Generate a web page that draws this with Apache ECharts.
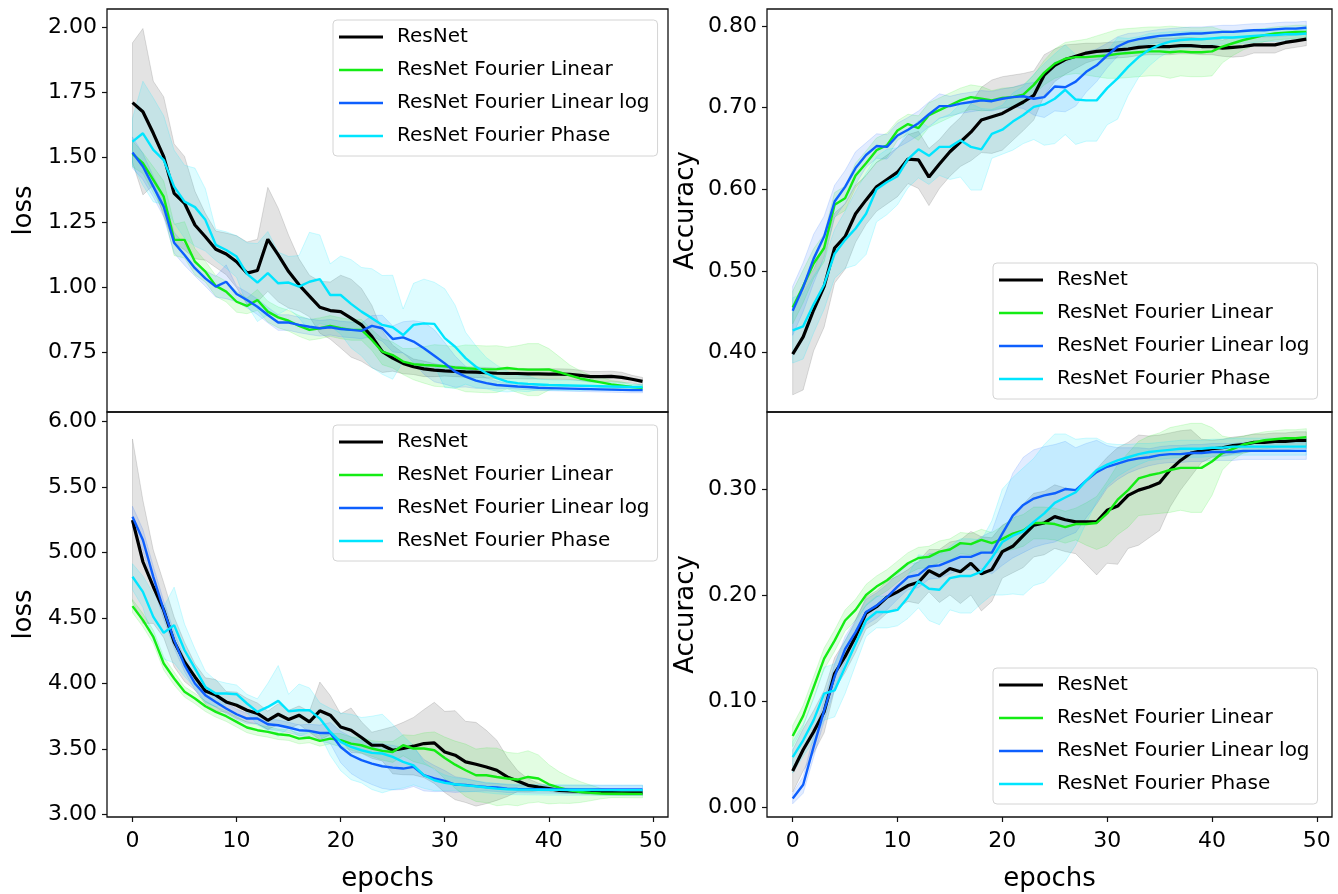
<!DOCTYPE html>
<html>
<head>
<meta charset="utf-8">
<script src="https://cdn.jsdelivr.net/npm/echarts@6/dist/echarts.min.js"></script>
<style>
  html, body { margin: 0; padding: 0; background: #fff; }
  #chart { width: 1338px; height: 894px; }
</style>
</head>
<body>
<div id="chart"></div>
<script>
'use strict';

var epochs = [0,1,2,3,4,5,6,7,8,9,10,11,12,13,14,15,16,17,18,19,20,21,22,23,24,25,26,27,28,29,30,31,32,33,34,35,36,37,38,39,40,41,42,43,44,45,46,47,48,49];
var seriesNames = ['ResNet', 'ResNet Fourier Linear', 'ResNet Fourier Linear log', 'ResNet Fourier Phase'];
var xTicks = [0, 10, 20, 30, 40, 50];

// top left: loss
var lossTopResNet = [1.709,1.674,1.591,1.501,1.360,1.322,1.238,1.193,1.145,1.127,1.097,1.053,1.063,1.183,1.123,1.059,1.008,0.965,0.922,0.909,0.905,0.880,0.854,0.809,0.751,0.726,0.706,0.693,0.685,0.680,0.677,0.675,0.673,0.672,0.670,0.668,0.667,0.667,0.666,0.666,0.665,0.665,0.664,0.660,0.655,0.655,0.656,0.652,0.645,0.637];
var lossTopLinear = [1.512,1.476,1.412,1.347,1.181,1.181,1.097,1.059,1.004,0.982,0.943,0.927,0.950,0.905,0.883,0.870,0.850,0.835,0.841,0.850,0.841,0.835,0.835,0.796,0.751,0.738,0.713,0.703,0.700,0.698,0.695,0.690,0.687,0.685,0.683,0.684,0.688,0.684,0.682,0.682,0.683,0.672,0.660,0.648,0.640,0.633,0.625,0.620,0.615,0.612];
var lossTopLinearLog = [1.517,1.463,1.386,1.309,1.170,1.123,1.072,1.033,1.001,1.020,0.973,0.950,0.924,0.892,0.863,0.863,0.854,0.847,0.841,0.845,0.838,0.835,0.831,0.850,0.841,0.800,0.806,0.790,0.764,0.735,0.706,0.674,0.655,0.640,0.630,0.623,0.620,0.617,0.615,0.612,0.611,0.610,0.609,0.608,0.607,0.606,0.605,0.604,0.603,0.603];
var lossTopPhase = [1.559,1.591,1.527,1.488,1.386,1.328,1.307,1.258,1.162,1.142,1.117,1.050,1.017,1.053,1.014,1.017,1.001,1.020,1.030,0.969,0.969,0.935,0.905,0.880,0.854,0.845,0.815,0.854,0.860,0.858,0.803,0.770,0.726,0.693,0.668,0.649,0.636,0.630,0.627,0.625,0.623,0.622,0.621,0.620,0.619,0.618,0.617,0.616,0.615,0.615];
var lossTopResNetStd = [0.23,0.32,0.20,0.23,0.19,0.18,0.13,0.09,0.07,0.08,0.10,0.12,0.12,0.20,0.18,0.14,0.10,0.08,0.10,0.11,0.14,0.15,0.14,0.12,0.08,0.05,0.04,0.03,0.03,0.025,0.02,0.02,0.02,0.02,0.02,0.02,0.02,0.02,0.02,0.02,0.02,0.02,0.02,0.02,0.02,0.02,0.02,0.02,0.015,0.015];
var lossTopLinearStd = [0.05,0.04,0.05,0.06,0.06,0.07,0.05,0.04,0.04,0.04,0.04,0.03,0.04,0.04,0.04,0.04,0.04,0.04,0.04,0.04,0.04,0.04,0.04,0.04,0.05,0.05,0.05,0.06,0.07,0.08,0.08,0.08,0.09,0.09,0.09,0.09,0.08,0.09,0.10,0.10,0.08,0.06,0.04,0.03,0.02,0.02,0.015,0.015,0.01,0.01];
var lossTopLinearLogStd = [0.06,0.05,0.04,0.04,0.04,0.04,0.03,0.03,0.04,0.065,0.03,0.03,0.03,0.03,0.03,0.03,0.03,0.03,0.03,0.03,0.03,0.03,0.03,0.04,0.05,0.05,0.06,0.08,0.10,0.10,0.08,0.06,0.04,0.03,0.02,0.015,0.01,0.01,0.01,0.01,0.01,0.01,0.01,0.01,0.01,0.01,0.01,0.01,0.01,0.01];
var lossTopPhaseStd = [0.09,0.20,0.20,0.17,0.14,0.14,0.15,0.12,0.06,0.07,0.08,0.12,0.15,0.16,0.12,0.10,0.12,0.19,0.17,0.12,0.15,0.17,0.17,0.19,0.19,0.20,0.10,0.16,0.17,0.16,0.19,0.16,0.10,0.08,0.06,0.05,0.04,0.03,0.03,0.02,0.02,0.02,0.02,0.02,0.015,0.015,0.015,0.015,0.01,0.01];

// top right: accuracy
var accTopResNet = [0.398,0.419,0.452,0.481,0.528,0.542,0.570,0.587,0.603,0.612,0.621,0.637,0.636,0.615,0.631,0.646,0.658,0.670,0.685,0.689,0.693,0.700,0.707,0.715,0.740,0.752,0.759,0.763,0.767,0.769,0.770,0.771,0.772,0.774,0.775,0.775,0.775,0.776,0.776,0.775,0.775,0.773,0.774,0.775,0.777,0.777,0.777,0.780,0.782,0.784];
var accTopLinear = [0.455,0.481,0.509,0.528,0.581,0.589,0.617,0.632,0.648,0.654,0.672,0.680,0.675,0.691,0.697,0.703,0.709,0.713,0.711,0.709,0.712,0.713,0.716,0.728,0.743,0.754,0.760,0.762,0.762,0.763,0.764,0.766,0.767,0.768,0.769,0.769,0.768,0.769,0.768,0.768,0.769,0.775,0.779,0.783,0.786,0.789,0.791,0.792,0.793,0.793];
var accTopLinearLog = [0.451,0.480,0.515,0.542,0.585,0.603,0.626,0.642,0.653,0.652,0.666,0.673,0.681,0.692,0.702,0.702,0.705,0.707,0.709,0.708,0.711,0.713,0.714,0.711,0.713,0.726,0.725,0.732,0.744,0.752,0.764,0.775,0.781,0.784,0.786,0.788,0.789,0.790,0.791,0.791,0.792,0.793,0.793,0.794,0.795,0.795,0.796,0.797,0.797,0.798];
var accTopPhase = [0.427,0.432,0.459,0.483,0.521,0.538,0.552,0.570,0.600,0.609,0.616,0.637,0.649,0.641,0.652,0.652,0.660,0.652,0.649,0.668,0.673,0.683,0.691,0.701,0.704,0.711,0.722,0.710,0.709,0.709,0.724,0.736,0.750,0.762,0.771,0.777,0.781,0.783,0.784,0.784,0.785,0.786,0.786,0.787,0.788,0.789,0.789,0.790,0.790,0.791];
var accTopResNetStd = [0.05,0.065,0.05,0.05,0.043,0.04,0.035,0.03,0.03,0.03,0.03,0.03,0.035,0.035,0.03,0.03,0.03,0.035,0.04,0.045,0.045,0.04,0.035,0.03,0.025,0.02,0.018,0.015,0.012,0.01,0.01,0.01,0.01,0.01,0.01,0.01,0.01,0.01,0.01,0.01,0.01,0.01,0.012,0.012,0.01,0.01,0.01,0.008,0.008,0.008];
var accTopLinearStd = [0.02,0.02,0.018,0.017,0.015,0.015,0.015,0.015,0.015,0.015,0.012,0.012,0.015,0.015,0.015,0.015,0.015,0.015,0.015,0.012,0.012,0.012,0.012,0.012,0.015,0.018,0.02,0.02,0.022,0.025,0.028,0.03,0.03,0.03,0.03,0.03,0.032,0.03,0.03,0.03,0.03,0.02,0.015,0.012,0.01,0.008,0.008,0.008,0.008,0.008];
var accTopLinearLogStd = [0.03,0.03,0.03,0.025,0.02,0.02,0.02,0.015,0.015,0.015,0.015,0.015,0.015,0.015,0.015,0.012,0.012,0.012,0.012,0.012,0.012,0.012,0.015,0.02,0.025,0.03,0.03,0.03,0.025,0.02,0.015,0.012,0.01,0.008,0.008,0.008,0.008,0.008,0.008,0.008,0.008,0.008,0.008,0.008,0.008,0.008,0.008,0.008,0.008,0.008];
var accTopPhaseStd = [0.04,0.04,0.035,0.03,0.03,0.035,0.045,0.05,0.04,0.04,0.035,0.035,0.035,0.035,0.035,0.04,0.045,0.053,0.05,0.03,0.03,0.035,0.035,0.04,0.05,0.055,0.055,0.055,0.05,0.05,0.045,0.05,0.035,0.025,0.02,0.015,0.012,0.01,0.01,0.01,0.008,0.008,0.008,0.008,0.008,0.008,0.008,0.008,0.008,0.008];

// bottom left: loss
var lossBotResNet = [5.248,4.930,4.739,4.560,4.318,4.165,4.050,3.943,3.911,3.859,3.834,3.796,3.771,3.719,3.765,3.725,3.758,3.707,3.791,3.758,3.668,3.643,3.587,3.528,3.528,3.490,3.503,3.521,3.541,3.546,3.477,3.452,3.401,3.383,3.362,3.337,3.286,3.255,3.222,3.209,3.197,3.184,3.179,3.176,3.171,3.168,3.166,3.164,3.164,3.164];
var lossBotLinear = [4.591,4.484,4.356,4.153,4.038,3.936,3.885,3.826,3.783,3.750,3.707,3.664,3.643,3.630,3.612,3.605,3.579,3.587,3.561,3.579,3.567,3.541,3.528,3.503,3.485,3.477,3.528,3.503,3.503,3.490,3.431,3.380,3.337,3.299,3.299,3.286,3.274,3.266,3.286,3.274,3.230,3.205,3.184,3.171,3.164,3.159,3.158,3.158,3.157,3.157];
var lossBotLinearLog = [5.274,5.096,4.815,4.560,4.331,4.140,4.000,3.911,3.859,3.809,3.765,3.732,3.732,3.689,3.681,3.664,3.643,3.638,3.622,3.622,3.515,3.452,3.414,3.388,3.368,3.357,3.350,3.363,3.299,3.274,3.255,3.228,3.224,3.216,3.209,3.205,3.197,3.194,3.193,3.192,3.192,3.191,3.191,3.190,3.190,3.190,3.190,3.190,3.190,3.190];
var lossBotPhase = [4.815,4.700,4.509,4.387,4.446,4.254,4.115,3.974,3.923,3.923,3.918,3.847,3.783,3.821,3.867,3.788,3.796,3.796,3.732,3.630,3.554,3.515,3.490,3.470,3.465,3.439,3.401,3.375,3.299,3.261,3.241,3.230,3.222,3.214,3.205,3.197,3.192,3.190,3.189,3.188,3.187,3.187,3.186,3.186,3.186,3.185,3.185,3.185,3.185,3.185];
var lossBotResNetStd = [0.62,0.47,0.28,0.21,0.19,0.15,0.10,0.10,0.12,0.08,0.10,0.09,0.08,0.07,0.08,0.07,0.07,0.08,0.22,0.15,0.10,0.17,0.12,0.10,0.12,0.18,0.20,0.22,0.26,0.31,0.31,0.34,0.31,0.32,0.28,0.23,0.15,0.08,0.05,0.03,0.02,0.02,0.02,0.02,0.02,0.02,0.02,0.02,0.02,0.02];
var lossBotLinearStd = [0.05,0.05,0.05,0.05,0.05,0.04,0.04,0.04,0.04,0.04,0.04,0.04,0.04,0.04,0.04,0.04,0.04,0.04,0.04,0.04,0.05,0.05,0.06,0.06,0.07,0.08,0.08,0.10,0.12,0.14,0.16,0.18,0.20,0.20,0.21,0.22,0.20,0.20,0.20,0.18,0.15,0.12,0.10,0.08,0.06,0.04,0.03,0.03,0.03,0.03];
var lossBotLinearLogStd = [0.08,0.08,0.08,0.07,0.06,0.05,0.05,0.05,0.04,0.04,0.04,0.04,0.04,0.04,0.04,0.04,0.04,0.05,0.06,0.08,0.12,0.14,0.15,0.16,0.17,0.17,0.16,0.15,0.12,0.10,0.08,0.06,0.05,0.04,0.03,0.03,0.03,0.03,0.03,0.03,0.03,0.03,0.03,0.03,0.03,0.03,0.03,0.03,0.03,0.03];
var lossBotPhaseStd = [0.10,0.12,0.18,0.20,0.29,0.20,0.15,0.12,0.10,0.08,0.07,0.07,0.10,0.18,0.27,0.13,0.20,0.17,0.12,0.18,0.22,0.25,0.25,0.28,0.30,0.25,0.20,0.15,0.10,0.08,0.06,0.05,0.05,0.04,0.04,0.04,0.04,0.04,0.04,0.04,0.04,0.04,0.04,0.04,0.04,0.04,0.04,0.04,0.04,0.04];

// bottom right: accuracy
var accBotResNet = [0.034,0.054,0.071,0.090,0.126,0.142,0.161,0.183,0.189,0.198,0.203,0.209,0.212,0.223,0.218,0.225,0.222,0.230,0.220,0.224,0.241,0.246,0.256,0.266,0.268,0.274,0.271,0.269,0.269,0.269,0.280,0.284,0.294,0.299,0.302,0.306,0.318,0.327,0.334,0.336,0.338,0.339,0.341,0.342,0.344,0.344,0.345,0.345,0.346,0.346];
var accBotLinear = [0.067,0.086,0.113,0.140,0.157,0.176,0.186,0.200,0.208,0.214,0.222,0.230,0.235,0.236,0.241,0.243,0.249,0.248,0.252,0.249,0.253,0.258,0.261,0.268,0.268,0.267,0.264,0.267,0.267,0.268,0.277,0.290,0.299,0.310,0.313,0.315,0.318,0.320,0.320,0.320,0.326,0.334,0.338,0.342,0.344,0.346,0.347,0.348,0.348,0.349];
var accBotLinearLog = [0.008,0.021,0.057,0.091,0.123,0.149,0.165,0.184,0.190,0.198,0.208,0.217,0.219,0.227,0.228,0.232,0.236,0.236,0.240,0.240,0.258,0.275,0.285,0.291,0.294,0.296,0.300,0.299,0.308,0.316,0.321,0.324,0.327,0.329,0.330,0.332,0.333,0.333,0.334,0.334,0.335,0.335,0.335,0.336,0.336,0.336,0.336,0.336,0.336,0.336];
var accBotPhase = [0.047,0.063,0.082,0.107,0.110,0.132,0.154,0.176,0.184,0.184,0.186,0.198,0.213,0.206,0.205,0.216,0.218,0.218,0.222,0.235,0.250,0.256,0.260,0.269,0.277,0.287,0.292,0.297,0.308,0.318,0.323,0.327,0.330,0.333,0.335,0.336,0.337,0.338,0.338,0.338,0.339,0.339,0.340,0.340,0.340,0.340,0.340,0.340,0.340,0.340];
var accBotResNetStd = [0.02,0.02,0.02,0.02,0.015,0.015,0.015,0.015,0.015,0.015,0.015,0.015,0.02,0.02,0.025,0.025,0.03,0.03,0.035,0.03,0.025,0.025,0.03,0.03,0.03,0.03,0.03,0.03,0.04,0.05,0.05,0.055,0.05,0.052,0.048,0.045,0.035,0.028,0.022,0.011,0.008,0.008,0.008,0.008,0.008,0.008,0.008,0.008,0.008,0.008];
var accBotLinearStd = [0.01,0.01,0.01,0.01,0.01,0.01,0.01,0.01,0.01,0.01,0.01,0.01,0.01,0.01,0.01,0.01,0.01,0.01,0.01,0.01,0.012,0.015,0.015,0.015,0.015,0.015,0.015,0.015,0.02,0.025,0.03,0.033,0.035,0.035,0.037,0.038,0.04,0.04,0.042,0.042,0.032,0.016,0.01,0.008,0.008,0.008,0.008,0.008,0.008,0.008];
var accBotLinearLogStd = [0.005,0.008,0.01,0.01,0.012,0.012,0.012,0.012,0.012,0.012,0.012,0.012,0.012,0.012,0.012,0.012,0.012,0.012,0.015,0.02,0.03,0.04,0.045,0.046,0.046,0.046,0.045,0.04,0.035,0.03,0.02,0.015,0.012,0.01,0.008,0.008,0.008,0.008,0.008,0.008,0.008,0.008,0.008,0.008,0.008,0.008,0.008,0.008,0.008,0.008];
var accBotPhaseStd = [0.015,0.015,0.02,0.025,0.025,0.025,0.02,0.015,0.015,0.015,0.015,0.02,0.025,0.03,0.033,0.03,0.035,0.035,0.03,0.035,0.05,0.055,0.06,0.06,0.065,0.065,0.06,0.05,0.04,0.03,0.02,0.015,0.012,0.01,0.008,0.008,0.008,0.008,0.008,0.008,0.008,0.008,0.008,0.008,0.008,0.008,0.008,0.008,0.008,0.008];

var lineColors = ['#000000', '#14ec14', '#0d5ffe', '#00e5ff'];
var bandColors = ['rgba(0,0,0,0.11)', 'rgba(20,236,20,0.12)', 'rgba(13,95,254,0.12)', 'rgba(0,229,255,0.13)'];
var bandEdges = ['rgba(0,0,0,0.12)', 'rgba(20,236,20,0.15)', 'rgba(13,95,254,0.15)', 'rgba(0,229,255,0.18)'];
var lineWidths = [3.2, 2.4, 2.4, 2.4];
// legend handles: tiny corner specks fix the bounding box so the bar thickness differs
var legendIcons = [
    'path://M0,0h0.01v0.01h-0.01z M0,1h44v3h-44z M0,4.99h0.01v0.01h-0.01z',
    'path://M0,0h0.01v0.01h-0.01z M0,1.3h44v2.4h-44z M0,4.99h0.01v0.01h-0.01z',
    'path://M0,0h0.01v0.01h-0.01z M0,1.3h44v2.4h-44z M0,4.99h0.01v0.01h-0.01z',
    'path://M0,0h0.01v0.01h-0.01z M0,1.3h44v2.4h-44z M0,4.99h0.01v0.01h-0.01z'
];
var FONT = 'DejaVu Sans';

var panels = [
    { means: [lossTopResNet, lossTopLinear, lossTopLinearLog, lossTopPhase],
      stds: [lossTopResNetStd, lossTopLinearStd, lossTopLinearLogStd, lossTopPhaseStd] },
    { means: [accTopResNet, accTopLinear, accTopLinearLog, accTopPhase],
      stds: [accTopResNetStd, accTopLinearStd, accTopLinearLogStd, accTopPhaseStd] },
    { means: [lossBotResNet, lossBotLinear, lossBotLinearLog, lossBotPhase],
      stds: [lossBotResNetStd, lossBotLinearStd, lossBotLinearLogStd, lossBotPhaseStd] },
    { means: [accBotResNet, accBotLinear, accBotLinearLog, accBotPhase],
      stds: [accBotResNetStd, accBotLinearStd, accBotLinearLogStd, accBotPhaseStd] }
];

// sanity check on hand typed arrays
panels.forEach(function (p, pi) {
    p.means.concat(p.stds).forEach(function (arr, ai) {
        if (arr.length !== epochs.length) {
            throw new Error('panel ' + pi + ' array ' + ai + ' has ' + arr.length + ' values');
        }
    });
});

var grids = [
    { left: 107, top: 9, width: 561, height: 403 },
    { left: 767, top: 9, width: 565, height: 403 },
    { left: 107, top: 412, width: 561, height: 405 },
    { left: 767, top: 412, width: 565, height: 405 }
];

var yAxes = [
    { min: 0.519, max: 2.069, ticks: [0.75, 1.0, 1.25, 1.5, 1.75, 2.0], name: 'loss', gap: 70 },
    { min: 0.327, max: 0.821, ticks: [0.4, 0.5, 0.6, 0.7, 0.8], name: 'Accuracy', gap: 68 },
    { min: 2.98, max: 6.074, ticks: [3.0, 3.5, 4.0, 4.5, 5.0, 5.5, 6.0], name: 'loss', gap: 70 },
    { min: -0.0094, max: 0.3727, ticks: [0.0, 0.1, 0.2, 0.3], name: 'Accuracy', gap: 68 }
];

var legendPos = [
    { left: 333, top: 20 },
    { left: 993, top: 263 },
    { left: 333, top: 425 },
    { left: 993, top: 668 }
];

// fill_between style band: one polygon through the axis coordinates
function bandRenderer(upper, lower, fill, edge) {
    return function (params, api) {
        if (params.dataIndex !== 0) {
            return null;
        }
        var pts = [], i;
        for (i = 0; i < epochs.length; i++) {
            pts.push(api.coord([epochs[i], upper[i]]));
        }
        for (i = epochs.length - 1; i >= 0; i--) {
            pts.push(api.coord([epochs[i], lower[i]]));
        }
        return {
            type: 'polygon',
            shape: { points: pts },
            style: { fill: fill, stroke: edge, lineWidth: 1 },
            silent: true
        };
    };
}

var series = [];
panels.forEach(function (panel, gi) {
    panel.means.forEach(function (mean, k) {
        var std = panel.stds[k],
            upper = [],
            lower = [],
            line = [];
        for (var i = 0; i < epochs.length; i++) {
            upper.push(mean[i] + std[i]);
            lower.push(mean[i] - std[i]);
            line.push([epochs[i], mean[i]]);
        }
        series.push({
            type: 'custom', name: 'band', xAxisIndex: gi, yAxisIndex: gi,
            data: epochs.map(function (e, j) { return [e, lower[j], upper[j]]; }),
            encode: { x: 0, y: [1, 2] },
            renderItem: bandRenderer(upper, lower, bandColors[k], bandEdges[k]),
            silent: true, z: 1
        });
        series.push({
            type: 'line', name: seriesNames[k], xAxisIndex: gi, yAxisIndex: gi,
            data: line, symbol: 'none', z: 5 + k,
            lineStyle: { color: lineColors[k], width: lineWidths[k] },
            itemStyle: { color: lineColors[k] }
        });
    });
});

var option = {
    animation: false,
    backgroundColor: '#ffffff',
    textStyle: { fontFamily: FONT },
    grid: grids.map(function (g) {
        return { left: g.left, top: g.top, width: g.width, height: g.height,
                 show: true, borderColor: '#111', borderWidth: 1.3, backgroundColor: 'transparent' };
    }),
    xAxis: grids.map(function (g, gi) {
        var bottom = gi >= 2;
        return {
            type: 'value', gridIndex: gi, min: -2.45, max: 51.45,
            splitLine: { show: false },
            axisLine: { show: false, onZero: false },
            axisTick: { show: bottom, customValues: xTicks, length: 5, lineStyle: { color: '#111', width: 1.2 } },
            axisLabel: { show: bottom, customValues: xTicks, fontSize: 22, color: '#000', margin: 13, fontFamily: FONT },
            name: bottom ? 'epochs' : '',
            nameLocation: 'middle',
            nameGap: 49,
            nameTextStyle: { fontSize: 26, color: '#000', fontFamily: FONT }
        };
    }),
    yAxis: yAxes.map(function (a, gi) {
        return {
            type: 'value', gridIndex: gi, min: a.min, max: a.max,
            splitLine: { show: false },
            axisLine: { show: false, onZero: false },
            axisTick: { show: true, customValues: a.ticks, length: 5, lineStyle: { color: '#111', width: 1.2 } },
            axisLabel: {
                customValues: a.ticks, fontSize: 22, color: '#000', margin: 10, fontFamily: FONT,
                formatter: function (v) { return v.toFixed(2); }
            },
            name: a.name,
            nameLocation: 'middle',
            nameGap: a.gap,
            nameTextStyle: { fontSize: 26, color: '#000', fontFamily: FONT }
        };
    }),
    legend: legendPos.map(function (p) {
        return {
            data: seriesNames.map(function (n, k) { return { name: n, icon: legendIcons[k] }; }),
            orient: 'vertical',
            left: p.left,
            top: p.top,
            align: 'left',
            itemWidth: 44,
            itemHeight: 5,
            itemGap: 11,
            padding: [6, 8, 9, 6],
            backgroundColor: 'rgba(255,255,255,0.85)',
            borderColor: '#d4d4d4',
            borderWidth: 1,
            borderRadius: 4,
            selectedMode: false,
            textStyle: { fontSize: 20, color: '#000', fontFamily: FONT, lineHeight: 22, padding: [0, 0, 0, 9] }
        };
    }),
    series: series
};

var chart = echarts.init(document.getElementById('chart'), null, { renderer: 'canvas' });
chart.setOption(option);
</script>
</body>
</html>
